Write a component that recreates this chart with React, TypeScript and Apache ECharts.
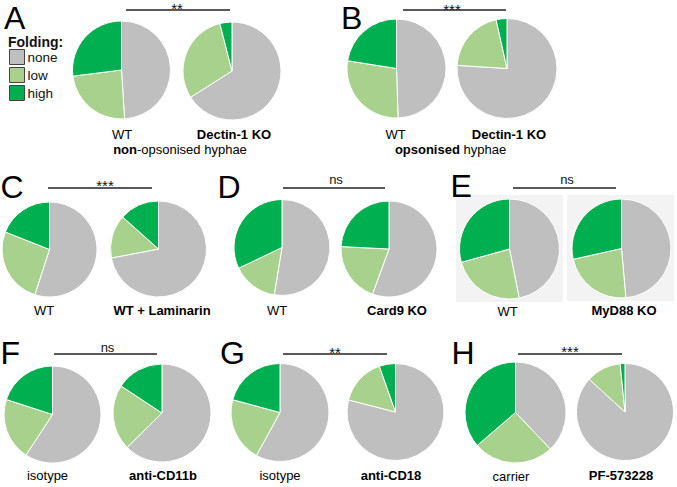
import React, { useEffect, useRef } from "react";
import * as echarts from "echarts";

const categories = ["none", "low", "high"];
const sampleLabels = [
  "WT", "Dectin-1 KO", "WT", "Dectin-1 KO", "WT", "WT + Laminarin", "WT", "Card9 KO",
  "WT", "MyD88 KO", "isotype", "anti-CD11b", "isotype", "anti-CD18", "carrier", "PF-573228",
];
const noneValues = [49, 66, 49.5, 76, 55, 72, 52.6, 55.6, 46.9, 48.6, 59.2, 62.6, 58, 79, 37.9, 86.8];
const lowValues = [24, 30, 28, 20.5, 26, 14.6, 15.3, 20.2, 23.8, 22.9, 20.8, 21.7, 21.2, 15.6, 25.8, 11.6];
const highValues = [27, 4, 22.5, 3.5, 19, 13.4, 32.1, 24.2, 29.3, 28.5, 20, 15.7, 20.8, 5.4, 36.3, 1.6];
const panelLetters = ["A", "B", "C", "D", "E", "F", "G", "H"];
const significance = ["**", "***", "***", "ns", "ns", "ns", "**", "***"];
const conditionA = ["non", "-opsonised hyphae"];
const conditionB = ["opsonised", " hyphae"];

// layout (pixels)
const pieLayout: number[][] = [
  [121.5, 70, 49], [232, 71, 49],
  [396.5, 68.5, 49.5], [507, 68.5, 50],
  [49.5, 249.5, 47.5], [158.5, 249, 48],
  [282, 247.5, 48], [389, 249, 48],
  [509.5, 249, 50], [621.5, 248.5, 49.5],
  [52.5, 414.5, 48.5], [162, 413, 49],
  [280, 412.5, 49], [395.5, 412, 48.5],
  [515.5, 412.5, 50.5], [625, 412, 48.5],
];
const labelPos: number[][] = [
  [122, 134], [234, 134], [395.5, 134], [509, 134],
  [44, 310], [162, 310], [277, 310], [397, 310],
  [507.5, 311], [624, 310], [47.5, 475.5], [163, 475],
  [280, 475.5], [391, 475], [511, 476], [621, 475],
];
const letterPos: number[][] = [
  [4, 18], [341, 18], [0.5, 186.5], [217.5, 186.5],
  [450.5, 186], [0.5, 352.5], [220, 352.5], [451.5, 353],
];
const sigLines: number[][] = [
  [126, 230, 10], [403, 506, 10], [48, 152, 188], [283, 385, 188],
  [513, 616, 188], [54, 157, 354], [283, 387, 354], [518, 622, 354],
];
const sigTextPos: number[][] = [
  [177, 8.8], [452, 9.1], [105, 185.8], [336, 179],
  [567, 179.5], [107.5, 347.7], [335, 352], [570, 351.8],
];

const COLORS = ["#bfbfbf", "#a9d18e", "#00b050"];
const FONT = "Liberation Sans, Arial, sans-serif";

export default function App() {
  const ref = useRef<HTMLDivElement>(null);
  useEffect(() => {
    if (!ref.current) return;
    const chart = echarts.init(ref.current, undefined, { renderer: "svg" });

    const series: any[] = noneValues.map((_, i) => ({
      type: "pie",
      name: sampleLabels[i] + "-" + i,
      center: [pieLayout[i][0], pieLayout[i][1]],
      radius: [0, pieLayout[i][2]],
      startAngle: 90,
      clockwise: true,
      silent: true,
      label: { show: false },
      labelLine: { show: false },
      emphasis: { disabled: true },
      itemStyle: { borderColor: "#ffffff", borderWidth: 1 },
      data: [
        { name: categories[0], value: noneValues[i], itemStyle: { color: COLORS[0] } },
        { name: categories[1], value: lowValues[i], itemStyle: { color: COLORS[1] } },
        { name: categories[2], value: highValues[i], itemStyle: { color: COLORS[2] } },
      ],
    }));

    const graphics: any[] = [];
    // E background boxes
    graphics.push({
      type: "rect", shape: { x: 456, y: 195, width: 107, height: 107 },
      style: { fill: "#f3f3f3" }, z: -10,
    });
    graphics.push({
      type: "rect", shape: { x: 567, y: 195, width: 107, height: 106 },
      style: { fill: "#f3f3f3" }, z: -10,
    });
    panelLetters.forEach((l, i) => {
      graphics.push({
        type: "text", x: letterPos[i][0], y: letterPos[i][1],
        style: {
          text: l, fontSize: 32, lineHeight: 30, fontFamily: FONT, fill: "#000",
          textAlign: "left", textVerticalAlign: "middle",
        },
      });
      graphics.push({
        type: "line", shape: { x1: sigLines[i][0], y1: sigLines[i][2], x2: sigLines[i][1], y2: sigLines[i][2] },
        style: { stroke: "#222", lineWidth: 1.3 },
      });
      const s = significance[i];
      graphics.push({
        type: "text", x: sigTextPos[i][0], y: sigTextPos[i][1],
        style: {
          text: s, fontSize: s === "ns" ? 13 : 15, fontFamily: FONT, fill: "#111",
          textAlign: "center", textVerticalAlign: "middle",
        },
      });
    });
    sampleLabels.forEach((t, i) => {
      graphics.push({
        type: "text", x: labelPos[i][0], y: labelPos[i][1],
        style: {
          text: t, fontSize: 13, fontFamily: FONT, fill: "#000",
          fontWeight: i % 2 === 1 ? "bold" : "normal",
          textAlign: "center", textVerticalAlign: "middle",
        },
      });
    });
    graphics.push({
      type: "text", x: 180, y: 149.5,
      style: {
        text: "{b|" + conditionA[0] + "}{n|" + conditionA[1] + "}",
        rich: {
          b: { fontWeight: "bold", fontSize: 13, fontFamily: FONT, fill: "#000" },
          n: { fontSize: 13, fontFamily: FONT, fill: "#000" },
        },
        textAlign: "center", textVerticalAlign: "middle",
      },
    });
    graphics.push({
      type: "text", x: 450.5, y: 149.5,
      style: {
        text: "{b|" + conditionB[0] + "}{n|" + conditionB[1] + "}",
        rich: {
          b: { fontWeight: "bold", fontSize: 13, fontFamily: FONT, fill: "#000" },
          n: { fontSize: 13, fontFamily: FONT, fill: "#000" },
        },
        textAlign: "center", textVerticalAlign: "middle",
      },
    });
    graphics.push({
      type: "text", x: 8, y: 41.5,
      style: { text: "Folding:", fontSize: 14, fontWeight: "bold", fontFamily: FONT, fill: "#111", textAlign: "left", textVerticalAlign: "middle" },
    });

    chart.setOption({
      animation: false,
      backgroundColor: "#ffffff",
      legend: {
        data: categories,
        orient: "vertical",
        left: 9,
        top: 49,
        itemWidth: 15,
        itemHeight: 15,
        itemGap: 2,
        padding: 0,
        icon: "rect",
        selectedMode: false,
        itemStyle: { borderColor: "#444", borderWidth: 1 },
        textStyle: { fontSize: 13.5, fontFamily: FONT, color: "#111", padding: [0, 0, 0, -2] },
      },
      graphic: graphics,
      series,
    });
    return () => chart.dispose();
  }, []);
  return (
    <div
      ref={ref}
      style={{ position: "absolute", left: 0, top: 0, width: 677, height: 487, background: "#fff" }}
    />
  );
}
